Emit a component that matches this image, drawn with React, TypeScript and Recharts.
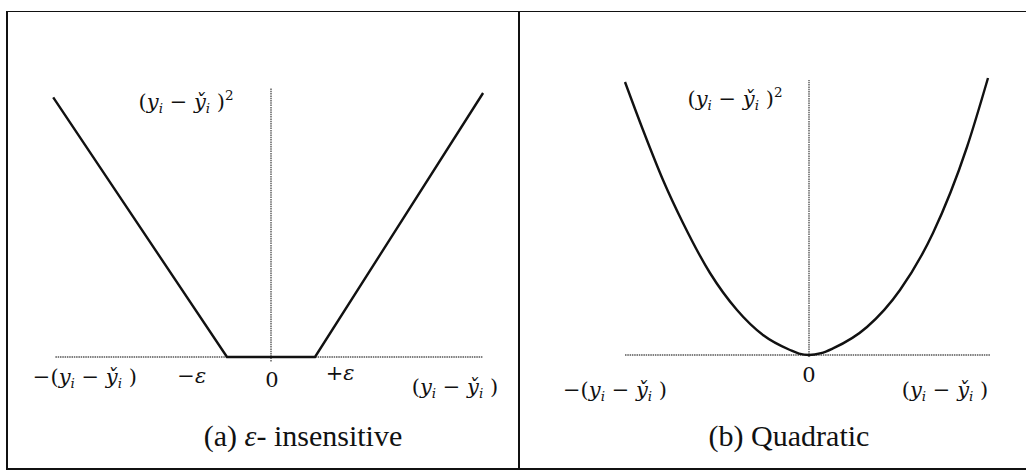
import React from 'react';
import { LineChart, Line, XAxis, YAxis, ReferenceLine, ReferenceDot } from 'recharts';

// ε-insensitive loss: flat between −ε and +ε (ε = 1 unit), linear outside
const epsX = [-4.95, -1, 1, 4.82];
const epsY = [5.9, 0, 0, 6.0];

// quadratic loss
const quadX = [-9.2, -8.3, -7.3, -6.3, -4.95, -3.6, -2.3, -0.95, -0.5, 0, 0.6, 1.2, 2.9, 4.55, 6.2, 7.9, 8.95];
const quadY = [13.65, 11.25, 8.75, 6.6, 4.1, 2.25, 1.0, 0.25, 0.07, 0, 0.09, 0.33, 1.4, 3.25, 6.1, 10.4, 13.85];

// axis extents (data units)
const epsAxisX = [-4.9, 4.82];
const epsAxisY = [-0.1, 6.1];
const quadAxisX = [-9.2, 9.05];
const quadAxisY = [-0.1, 13.75];

// annotations: kind 'neg' | 'pos' | 'sq' render the error term, otherwise plain text
const epsLabels = [
  { kind: 'sq', text: '', x: -1.93, y: 5.64 },
  { kind: 'neg', text: '', x: -4.23, y: -0.61 },
  { kind: 'txt', text: '−ε', x: -1.8, y: -0.59 },
  { kind: 'txt', text: '0', x: 0.02, y: -0.68 },
  { kind: 'txt', text: '+ε', x: 1.57, y: -0.52 },
  { kind: 'pos', text: '', x: 4.18, y: -0.84 },
];
const quadLabels = [
  { kind: 'sq', text: '', x: -3.7, y: 12.45 },
  { kind: 'txt', text: '0', x: 0, y: -1.35 },
  { kind: 'neg', text: '', x: -9.7, y: -2.1 },
  { kind: 'pos', text: '', x: 6.8, y: -2.1 },
];

const titles = ['(a) ε- insensitive', '(b) Quadratic'];

const INK = '#111';
const AXIS = '#555';
const MATH = "'DejaVu Serif', serif";
const SERIF = "'Liberation Serif', 'Times New Roman', serif";

const epsData = epsX.map((x, i) => ({ x, y: epsY[i] }));
const quadData = quadX.map((x, i) => ({ x, y: quadY[i] }));

function MathLabel({ cx, cy, kind, text }: any) {
  const fs = 21;
  const sub = 13.5;
  const style = { fontFamily: MATH };
  if (kind === 'txt') {
    return (
      <text x={cx} y={cy} textAnchor="middle" style={style} fontSize={fs} fill={INK}>
        {text.startsWith('0') ? text : (
          <>
            <tspan>{text[0]}</tspan>
            <tspan fontStyle="italic">{text.slice(1)}</tspan>
          </>
        )}
      </text>
    );
  }
  return (
    <text x={cx} y={cy} textAnchor="middle" style={style} fontSize={fs} fill={INK}>
      <tspan>{kind === 'neg' ? '−(' : '('}</tspan>
      <tspan fontStyle="italic">y</tspan>
      <tspan fontStyle="italic" fontSize={sub} dy={4}>i</tspan>
      <tspan dy={-4}> − </tspan>
      <tspan fontStyle="italic">y̌</tspan>
      <tspan fontStyle="italic" fontSize={sub} dy={4}>i</tspan>
      <tspan dy={-4}> )</tspan>
      {kind === 'sq' && <tspan fontSize={sub} dy={-9}>2</tspan>}
    </text>
  );
}

function Panel({ data, labels, axisX, axisY, xDomain, yDomain, margin, curve, width, left }: any) {
  return (
    <div style={{ position: 'absolute', left, top: 0 }}>
      <LineChart width={width} height={473} data={data} margin={margin}>
        <XAxis type="number" dataKey="x" domain={xDomain} hide allowDataOverflow />
        <YAxis type="number" domain={yDomain} hide allowDataOverflow />
        <ReferenceLine
          segment={[{ x: axisX[0], y: 0 }, { x: axisX[1], y: 0 }]}
          stroke={AXIS}
          strokeWidth={1.4}
          strokeDasharray="1.5 0.8"
        />
        <ReferenceLine
          segment={[{ x: 0, y: axisY[0] }, { x: 0, y: axisY[1] }]}
          stroke={AXIS}
          strokeWidth={1.4}
          strokeDasharray="1.5 0.8"
        />
        <Line
          dataKey="y"
          type={curve}
          stroke={INK}
          strokeWidth={2.4}
          dot={false}
          isAnimationActive={false}
        />
        {labels.map((l: any, i: number) => (
          <ReferenceDot
            key={i}
            x={l.x}
            y={l.y}
            r={1}
            shape={(p: any) => <MathLabel cx={p.cx} cy={p.cy} kind={l.kind} text={l.text} />}
          />
        ))}
      </LineChart>
    </div>
  );
}

export default function App() {
  return (
    <div style={{ position: 'absolute', left: 0, top: 0, width: 1026, height: 473, background: '#fff', overflow: 'hidden' }}>
      {/* frame and divider */}
      <div
        style={{
          position: 'absolute', left: 6, top: 11, width: 1040, height: 456,
          borderLeft: '2px solid #111', borderTop: '1.5px solid #111', borderBottom: '2px solid #111',
        }}
      />
      <div style={{ position: 'absolute', left: 518, top: 12, width: 2, height: 457, background: '#111' }} />

      <Panel
        left={0}
        width={520}
        data={epsData}
        labels={epsLabels}
        axisX={epsAxisX}
        axisY={epsAxisY}
        xDomain={[-5.5, 5.5]}
        yDomain={[-1, 7]}
        margin={{ top: 49, right: 7, bottom: 72, left: 29 }}
        curve="linear"
      />
      <Panel
        left={520}
        width={506}
        data={quadData}
        labels={quadLabels}
        axisX={quadAxisX}
        axisY={quadAxisY}
        xDomain={[-10, 10]}
        yDomain={[-4, 16]}
        margin={{ top: 35, right: 17, bottom: 38, left: 89 }}
        curve="monotone"
      />

      {titles.map((t, i) => (
        <div
          key={t}
          style={{
            position: 'absolute', left: i === 0 ? 303 - 150 : 789 - 150, top: 421, width: 300,
            textAlign: 'center', fontFamily: SERIF, fontSize: 30, color: INK, lineHeight: '30px',
          }}
        >
          {i === 0 ? (
            <>(a) <i>ε</i>- insensitive</>
          ) : t}
        </div>
      ))}
    </div>
  );
}
